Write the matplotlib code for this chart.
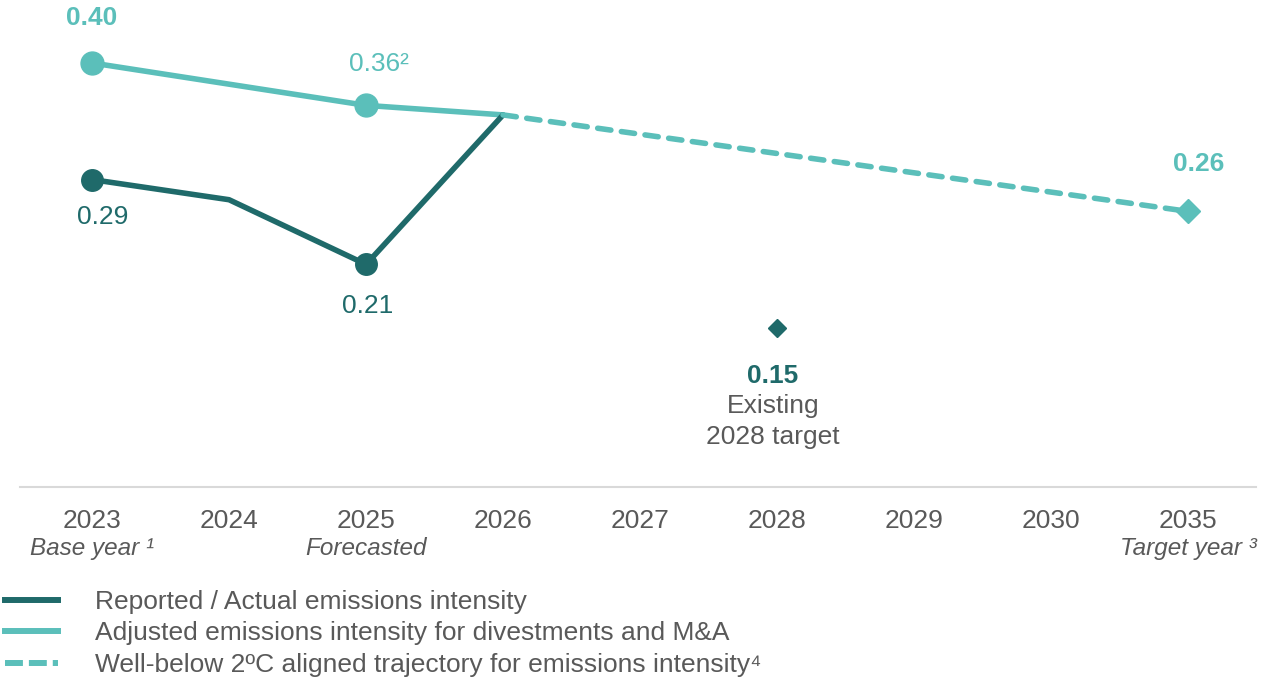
import matplotlib
matplotlib.use("Agg")
import matplotlib.pyplot as plt
from matplotlib.lines import Line2D

plt.rcParams['font.family'] = ['Liberation Sans', 'DejaVu Sans']

# data
years = ["2023", "2024", "2025", "2026", "2027", "2028", "2029", "2030", "2035"]
reported = [0.29, 0.271, 0.21, 0.351]          # 2023-2026
adjusted = [0.40, 0.38, 0.36, 0.351]           # 2023-2026
trajectory_idx = [3, 8]                        # 2026 -> 2035
trajectory = [0.351, 0.26]
target_2028 = 0.15
target_2035 = 0.26
sub_labels = {"2023": "Base year \u00b9", "2025": "Forecasted", "2035": "Target year \u00b3"}

DARK = "#1f6a6a"
LIGHT = "#5bbfba"
GREY = "#595959"

fig = plt.figure(figsize=(12.66, 6.81), dpi=100)
ax = fig.add_axes([20 / 1266, (681 - 487) / 681, 1236 / 1266, 487 / 681])
ax.set_xlim(-0.526, 8.496)
ax.set_ylim(0, 0.4594)

x_hist = list(range(len(reported)))

ax.plot(x_hist, adjusted, color=LIGHT, lw=4, solid_capstyle='round', zorder=2)
ax.plot([0, 2], [adjusted[0], adjusted[2]], ls='none', marker='o', ms=16.5,
        color=LIGHT, zorder=3)
ax.plot(x_hist, reported, color=DARK, lw=4, solid_capstyle='round', zorder=2)
ax.plot([0, 2], [reported[0], reported[2]], ls='none', marker='o', ms=15.5,
        color=DARK, zorder=3)
ax.plot(trajectory_idx, trajectory, color=LIGHT, lw=4, ls=(0, (2.4, 1.9)),
        dash_capstyle='round', zorder=2)
ax.plot([8], [target_2035], ls='none', marker='D', ms=12, color=LIGHT, zorder=3)
ax.plot([5], [target_2028], ls='none', marker='D', ms=9, color=DARK, zorder=3)

# value labels
def label(x, y, txt, dx, dy, color, bold=False, **kw):
    ax.annotate(txt, (x, y), xytext=(dx, dy), textcoords='offset points',
                ha='center', va='center', color=color, fontsize=19,
                fontweight='bold' if bold else 'normal', **kw)

label(0, adjusted[0], "0.40", 0, 32.4, LIGHT, bold=True)
label(2, adjusted[2], "0.36\u00b2", 9.4, 29.5, LIGHT)
label(0, reported[0], "0.29", 7.9, -26.6, DARK)
label(2, reported[2], "0.21", 1.4, -30.2, DARK)
label(8, target_2035, "0.26", 7.9, 33.8, LIGHT, bold=True)
label(5, target_2028, "0.15", -2.9, -34.6, DARK, bold=True)
label(5, target_2028, "Existing\n2028 target", -2.9, -67.5, GREY, linespacing=1.35)

# axes styling
for s in ["top", "right", "left"]:
    ax.spines[s].set_visible(False)
ax.spines["bottom"].set_color("#d9d9d9")
ax.spines["bottom"].set_linewidth(1.5)
ax.set_yticks([])
ax.set_xticks(range(len(years)))
ax.set_xticklabels(years, fontsize=19, color=GREY)
ax.tick_params(axis='x', length=0, pad=16)

for i, yr in enumerate(years):
    if yr in sub_labels:
        ax.annotate(sub_labels[yr], (i, 0), xycoords=ax.get_xaxis_transform(),
                    xytext=(0, -44), textcoords='offset points', ha='center',
                    va='center', fontsize=17.5, style='italic', color=GREY)

handles = [
    Line2D([], [], color=DARK, lw=4.3),
    Line2D([], [], color=LIGHT, lw=4.3),
    Line2D([], [], color=LIGHT, lw=4.3, ls=(0, (3.0, 1.0))),
]
labels = [
    "Reported / Actual emissions intensity",
    "Adjusted emissions intensity for divestments and M&A",
    "Well-below 2\u00baC aligned trajectory for emissions intensity\u2074",
]
leg = fig.legend(handles, labels, loc='upper left', bbox_to_anchor=(5 / 1266, 1 - 590 / 681),
                 frameon=False, fontsize=19, handlelength=2.0, handletextpad=1.4,
                 labelspacing=0.28, borderpad=0, borderaxespad=0)
for t in leg.get_texts():
    t.set_color(GREY)

fig.savefig("out.png", dpi=100)
